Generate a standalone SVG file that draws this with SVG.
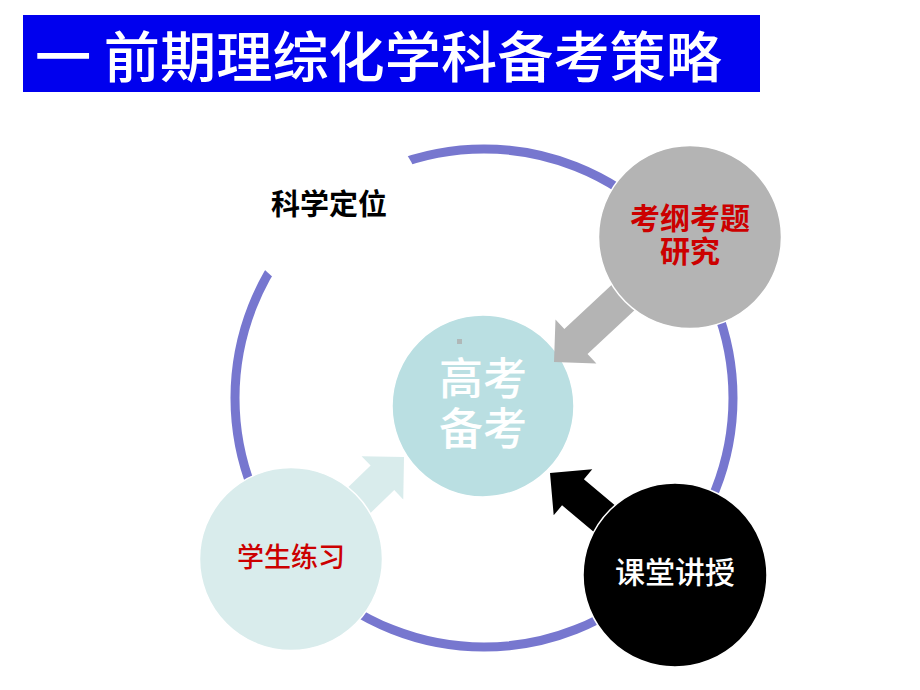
<svg xmlns="http://www.w3.org/2000/svg" width="920" height="690" viewBox="0 0 920 690">
<style>
.cjk{font-family:"Noto Sans CJK SC","Noto Sans CJK JP",sans-serif;text-anchor:middle}
.node{stroke:#ffffff;stroke-width:1.5}
</style>
<defs>
<polygon id="arr" points="0,0 -30,-30 -30,-17 -140,-17 -140,17 -30,17 -30,30"/>
</defs>
<rect width="920" height="690" fill="#ffffff"/>
<g id="title">
<rect x="23" y="15" width="737" height="77" fill="#0000ee"/>
<text x="35" y="77" font-size="55" font-weight="500" fill="#ffffff" class="cjk" style="text-anchor:start" textLength="687" lengthAdjust="spacingAndGlyphs">一 前期理综化学科备考策略</text>
</g>
<g id="ring">
<circle cx="484" cy="398" r="249" fill="none" stroke="#7777cf" stroke-width="9"/>
</g>
<g id="node-dingwei">
<circle cx="330" cy="205" r="92" fill="#ffffff"/>
<text x="329" y="215" font-size="29" font-weight="bold" fill="#000000" class="cjk">科学定位</text>
</g>
<g id="node-center">
<circle cx="483" cy="406" r="91" fill="#badfe2" class="node"/>
<rect x="457" y="339" width="5" height="5" fill="#b0b8b8"/>
<text font-size="44" font-weight="500" fill="#ffffff" class="cjk"><tspan x="483" y="395">高考</tspan><tspan x="483" y="445">备考</tspan></text>
</g>
<g id="connectors">
<use href="#arr" fill="#b4b4b4" transform="translate(554,362) rotate(137)"/>
<use href="#arr" fill="#000000" transform="translate(550,473) rotate(220)"/>
<use href="#arr" fill="#d9ecec" transform="translate(404,457) rotate(-44)"/>
</g>
<g id="node-kaogang">
<circle cx="690" cy="237" r="91.5" fill="#b4b4b4" class="node"/>
<text font-size="30" font-weight="bold" fill="#cc0000" class="cjk"><tspan x="690" y="229">考纲考题</tspan><tspan x="690" y="262">研究</tspan></text>
</g>
<g id="node-lianxi">
<circle cx="291" cy="559" r="91.5" fill="#d9ecec" class="node"/>
<text x="291" y="567" font-size="27" font-weight="500" fill="#cc0000" class="cjk">学生练习</text>
</g>
<g id="node-jiangshou">
<circle cx="675" cy="575" r="92" fill="#000000" class="node"/>
<text x="675" y="583" font-size="30" font-weight="500" fill="#ffffff" class="cjk">课堂讲授</text>
</g>
</svg>
